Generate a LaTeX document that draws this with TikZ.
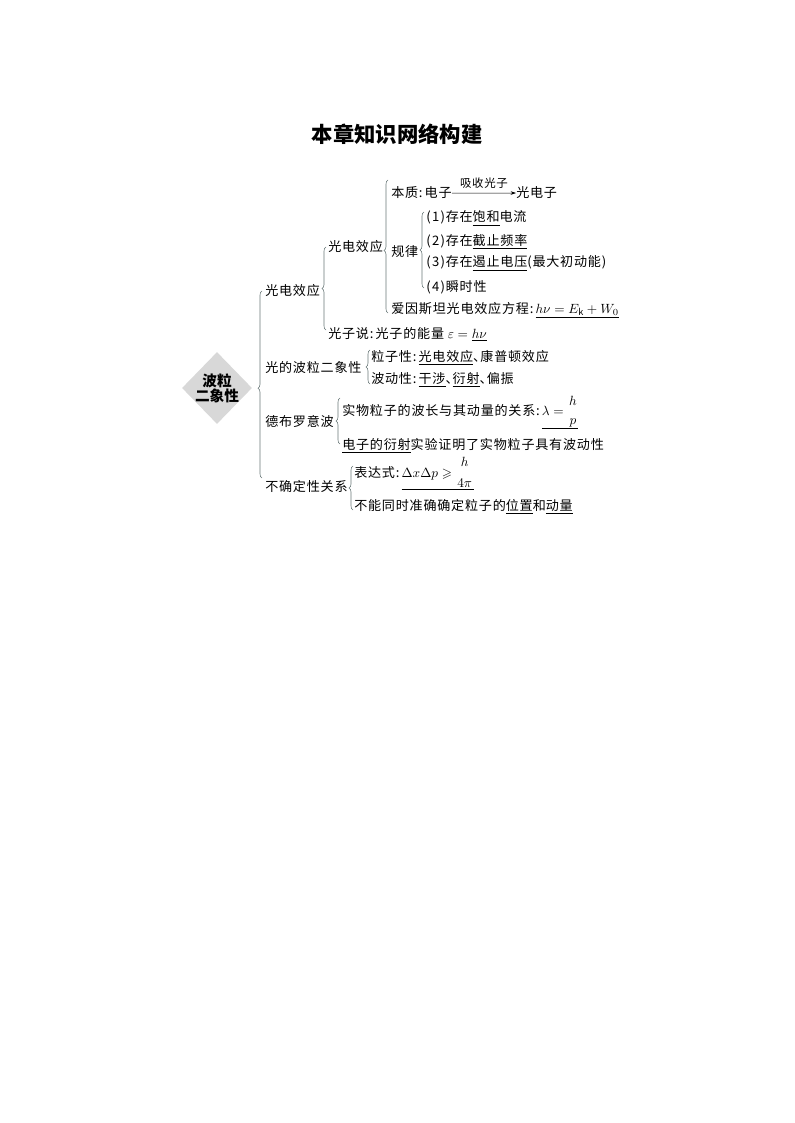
\documentclass[tikz,border=0pt]{standalone}
\usepackage{amsmath,amssymb}
\usepackage{fontspec}
\setmainfont{Noto Sans CJK SC}
\newfontfamily\spaced{Noto Sans CJK SC}[LetterSpace=6]
\usetikzlibrary{decorations.pathreplacing,shapes.geometric,arrows.meta}
\definecolor{bracecol}{RGB}{105,120,120}
\definecolor{dfill}{RGB}{216,216,216}
\newcommand\myul[1]{\underline{#1}}
\newcommand\cn{\kern0.6pt:\kern1.6pt}
\newcommand\dn{\makebox[0.55em][l]{、}}
\newcommand\pn[1]{(\kern1pt#1\kern1pt)}
\begin{document}
\begin{tikzpicture}[x=0.75pt,y=-0.75pt,
  txt/.style={anchor=base west, inner sep=0pt, font=\spaced\fontsize{9.8}{12}\selectfont},
  brc/.style={decorate, decoration={brace, amplitude=3pt, aspect=#1}, draw=bracecol, line width=0.45pt},
  brc/.default=0.5]
\useasboundingbox (0,0) rectangle (794,1123);

% title
\node[anchor=base, inner sep=0pt, font=\fontsize{16}{18}\selectfont\bfseries] (title) at (397,143) {本章知识网络构建};

% root
\node[diamond, fill=dfill, minimum width=52.5pt, minimum height=54pt, inner sep=0pt] (root) at (217,388) {};
\node[align=center, inner sep=0pt, font=\fontsize{11}{11.4}\selectfont\bfseries] (roottxt) at (root.center) {波粒\\二象性};

% level 1
\node[txt] (a1) at (265,295) {光电效应};
\node[txt] (a2) at (265,372) {光的波粒二象性};
\node[txt] (a3) at (265,426) {德布罗意波};
\node[txt] (a4) at (265,491) {不确定性关系};

% level 2 (photoelectric)
\node[txt] (b1) at (328,252) {光电效应};
\node[txt] (b2) at (328,338) {光子说\cn 光子的能量 $\varepsilon=\underline{h\nu}$};

% level 3
\node[txt] (c1) at (391,198) {本质\cn 电子};
\node[txt] (c1b) at (516,198) {光电子};
\draw[line width=0.4pt, -{Stealth[length=4pt,width=2.6pt]}] (c1.east) -- (c1b.west)
  node[midway, above=3.5pt, inner sep=0pt, font=\spaced\fontsize{8.6}{10}\selectfont] (lbl) {吸收光子};
\node[txt] (c2) at (391,256) {规律};
\node[txt] (c3) at (391,313) {爱因斯坦光电效应方程\cn$\underline{h\nu=E_{\mathrm{k}}+W_0}$};

% level 4
\node[txt] (d1) at (426,222) {\pn{1}存在\myul{饱和}电流};
\node[txt] (d2) at (426,245) {\pn{2}存在\myul{截止频率}};
\node[txt] (d3) at (426,267) {\pn{3}存在\myul{遏止电压}(最大初动能)};
\node[txt] (d4) at (426,291) {\pn{4}瞬时性};

% wave-particle duality of light
\node[txt] (e1) at (371,361) {粒子性\cn\myul{光电效应}\dn 康普顿效应};
\node[txt] (e2) at (371,383) {波动性\cn\myul{干涉}\dn\myul{衍射}\dn 偏振};

% de Broglie
\node[txt] (f1) at (342,415) {实物粒子的波长与其动量的关系\cn\myul{$\lambda=\genfrac{}{}{0pt}{0}{h}{p}$}};
\node[txt] (f2) at (342,449) {\myul{电子的衍射}实验证明了实物粒子具有波动性};

% uncertainty
\node[txt] (g1) at (354,477) {表达式\cn\myul{$\Delta x\Delta p\geqslant\genfrac{}{}{0pt}{0}{h\rule[-3pt]{0pt}{1pt}}{4\pi\rule{0pt}{9.5pt}}$}};
\node[txt] (g2) at (354,510) {不能同时准确确定粒子的\myul{位置}和\myul{动量}};

% brace end coordinates
\coordinate (A0) at (262,478); \coordinate (A1) at (262,291);
\coordinate (B0) at (326,330); \coordinate (B1) at (326,247);
\coordinate (C0) at (388,313); \coordinate (C1) at (388,180);
\coordinate (D0) at (424,288); \coordinate (D1) at (424,212);
\coordinate (E0) at (370,384); \coordinate (E1) at (370,350);
\coordinate (F0) at (340,444); \coordinate (F1) at (340,398);
\coordinate (G0) at (353,510); \coordinate (G1) at (353,466);

\draw[brc=0.48] (A0) -- (A1);
\draw[brc=0.5] (B0) -- (B1);
\draw[brc=0.47] (C0) -- (C1);
\draw[brc=0.5] (D0) -- (D1);
\draw[brc=0.5] (E0) -- (E1);
\draw[brc=0.5] (F0) -- (F1);
\draw[brc=0.5] (G0) -- (G1);
\end{tikzpicture}
\end{document}
